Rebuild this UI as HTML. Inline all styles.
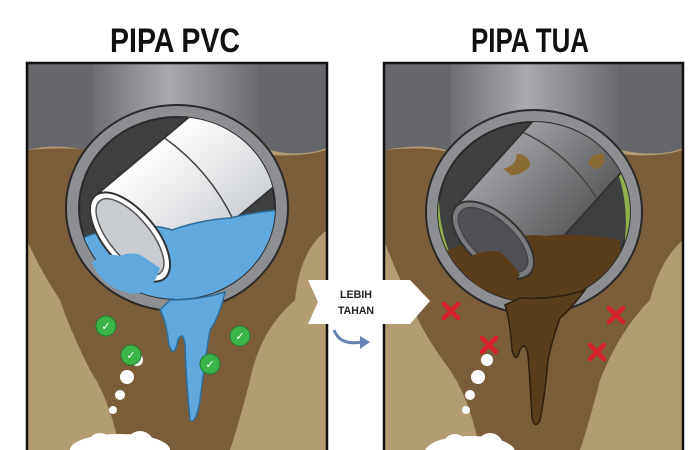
<!DOCTYPE html>
<html><head><meta charset="utf-8"><style>
html,body{margin:0;padding:0;background:#fff;width:700px;height:450px;overflow:hidden}
</style></head><body>
<svg width="700" height="450" viewBox="0 0 700 450" xmlns="http://www.w3.org/2000/svg">
<defs>
<linearGradient id="vp" x1="0" x2="1"><stop offset="0" stop-color="#6e6f72"/><stop offset=".45" stop-color="#a9aaad"/><stop offset="1" stop-color="#6a6b6e"/></linearGradient>
<linearGradient id="wp" x1="0" y1="0" x2="0" y2="1"><stop offset="0" stop-color="#ffffff"/><stop offset="1" stop-color="#cfd2d6"/></linearGradient>
<linearGradient id="gp" x1="0" y1="0" x2="0" y2="1"><stop offset="0" stop-color="#9b9c9f"/><stop offset="1" stop-color="#5d5e60"/></linearGradient>
<clipPath id="cl"><rect x="27" y="63" width="300" height="387"/></clipPath>
<clipPath id="cr"><rect x="384" y="63" width="299" height="387"/></clipPath>
<clipPath id="il"><ellipse cx="177" cy="208" rx="98" ry="91"/></clipPath>
<clipPath id="ir"><ellipse cx="534" cy="212" rx="96" ry="90"/></clipPath>
</defs>
<text x="175" y="52" text-anchor="middle" font-family="Liberation Sans, sans-serif" font-weight="bold" font-size="34" textLength="130" lengthAdjust="spacingAndGlyphs" fill="#111">PIPA PVC</text>
<text x="530" y="52" text-anchor="middle" font-family="Liberation Sans, sans-serif" font-weight="bold" font-size="34" textLength="118" lengthAdjust="spacingAndGlyphs" fill="#111">PIPA TUA</text>

<!-- LEFT PANEL -->
<g clip-path="url(#cl)">
<rect x="27" y="63" width="300" height="387" fill="#b39c72"/>
<path d="M27,150 Q60,142 90,152 L270,150 Q300,158 327,148 L327,63 L27,63Z" fill="#66676a"/>
<rect x="94" y="63" width="165" height="100" fill="url(#vp)"/>
<path d="M27,150 Q80,145 110,155 L250,152 Q290,160 327,150 L327,230 Q300,250 295,300 Q260,330 250,380 Q240,420 230,450 L120,450 Q110,400 90,370 Q70,330 60,300 Q40,270 27,240Z" fill="#7b5d3a"/>
<ellipse cx="177" cy="208" rx="111" ry="103" fill="#8d8e91" stroke="#2a2a2a" stroke-width="2"/>
<ellipse cx="177" cy="208" rx="98" ry="91" fill="#3f4042" stroke="#2a2a2a" stroke-width="2"/>
<g clip-path="url(#il)">
<g transform="translate(130,237) rotate(-40)">
<rect x="0" y="-54" width="190" height="108" fill="url(#wp)" stroke="#333" stroke-width="2"/>
<path d="M90,-54 Q104,0 90,54" fill="none" stroke="#444" stroke-width="1.5"/>
</g>
<path d="M80,240 Q100,228 125,232 Q150,222 172,230 Q200,220 230,218 Q255,212 280,210 L280,320 L80,320Z" fill="#5fa9de" stroke="#2c6d9b" stroke-width="1.5"/>
</g>
<g transform="translate(130,237) rotate(-40)">
<ellipse cx="0" cy="0" rx="26" ry="54" fill="#fff" stroke="#333" stroke-width="2"/>
<ellipse cx="0" cy="0" rx="20" ry="47" fill="#c9ccd0" stroke="#555" stroke-width="1.5"/>
</g>
<path d="M92,262 Q105,252 120,256 Q135,250 145,258 L160,268 Q150,300 125,292 Q100,285 92,262Z" fill="#5fa9de"/>
<path d="M170,300 Q200,300 225,292 Q220,315 210,330 Q205,360 200,400 Q196,425 190,420 Q186,380 185,345 Q183,330 178,340 Q174,360 169,345 Q166,320 160,310Z" fill="#5fa9de" stroke="#2c6d9b" stroke-width="1.5"/>
<g fill="#fff"><circle cx="137" cy="360" r="6"/><circle cx="127" cy="377" r="7"/><circle cx="120" cy="395" r="5"/><circle cx="113" cy="410" r="4"/><ellipse cx="120" cy="450" rx="50" ry="16"/><circle cx="100" cy="445" r="12"/><circle cx="140" cy="445" r="14"/></g>
<g font-family="DejaVu Sans, sans-serif" font-size="11" font-weight="bold" fill="#fff" text-anchor="middle">
<circle cx="106" cy="326" r="10" fill="#3bb54a" stroke="#1e7d2c"/><text x="106" y="330">✓</text>
<circle cx="131" cy="355" r="10" fill="#3bb54a" stroke="#1e7d2c"/><text x="131" y="359">✓</text>
<circle cx="210" cy="364" r="10" fill="#3bb54a" stroke="#1e7d2c"/><text x="210" y="368">✓</text>
<circle cx="240" cy="336" r="10" fill="#3bb54a" stroke="#1e7d2c"/><text x="240" y="340">✓</text>
</g>
</g>
<rect x="27" y="63" width="300" height="392" fill="none" stroke="#111" stroke-width="2.5"/>

<!-- RIGHT PANEL -->
<g clip-path="url(#cr)">
<rect x="384" y="63" width="299" height="387" fill="#b39c72"/>
<path d="M384,150 Q430,142 450,152 L620,150 Q660,158 683,148 L683,63 L384,63Z" fill="#66676a"/>
<rect x="451" y="63" width="167" height="100" fill="url(#vp)"/>
<path d="M384,150 Q430,145 460,155 L610,152 Q650,160 683,150 L683,240 Q660,260 650,300 Q620,330 600,380 Q590,420 580,450 L480,450 Q470,400 450,370 Q420,330 410,300 Q395,270 384,240Z" fill="#7b5d3a"/>
<ellipse cx="534" cy="212" rx="108" ry="102" fill="#8d8e91" stroke="#2a2a2a" stroke-width="2"/>
<ellipse cx="534" cy="212" rx="96" ry="90" fill="#3f4042" stroke="#2a2a2a" stroke-width="2"/>
<g clip-path="url(#ir)">
<path d="M440,180 Q435,225 455,265 L448,268 Q428,220 436,175Z M615,165 Q635,215 618,275 L630,276 Q645,215 622,160Z" fill="#8fb04a"/>
<g transform="translate(493,240) rotate(-48)">
<rect x="0" y="-50" width="190" height="100" fill="url(#gp)" stroke="#333" stroke-width="2"/>
<path d="M100,-50 Q115,0 100,50" fill="none" stroke="#444" stroke-width="1.5"/>
<path d="M60,-40 q10,8 20,0 q8,10 0,18 q-12,0 -20,-8Z M120,20 q10,-6 18,4 q-4,10 -16,6Z M140,-30 q8,4 14,-2 q4,8 -4,14 q-8,-2 -10,-12Z" fill="#8a6a35"/>
</g>
<path d="M445,252 Q470,238 500,245 Q520,232 545,236 Q575,232 620,240 L620,320 L445,320Z" fill="#5a3e1c"/>
</g>
<g transform="translate(493,240) rotate(-48)">
<ellipse cx="0" cy="0" rx="26" ry="50" fill="#7a7b7e" stroke="#333" stroke-width="2"/>
<ellipse cx="0" cy="0" rx="20" ry="43" fill="#505154" stroke="#444" stroke-width="1.5"/>
</g>
<path d="M462,262 Q480,248 500,252 Q512,262 520,275 Q505,295 485,290 Q466,282 462,262Z" fill="#5a3e1c"/>
<path d="M520,298 Q555,300 585,290 Q570,310 560,318 Q552,340 548,360 Q545,395 540,420 Q535,430 532,418 Q530,380 528,355 Q525,340 520,350 Q516,365 512,350 Q510,320 505,305Z" fill="#5a3e1c" stroke="#2e1f0d" stroke-width="1.5"/>
<g fill="#fff"><circle cx="487" cy="360" r="6"/><circle cx="478" cy="377" r="7"/><circle cx="470" cy="395" r="5"/><circle cx="466" cy="410" r="4"/><ellipse cx="470" cy="452" rx="45" ry="16"/><circle cx="455" cy="446" r="12"/><circle cx="490" cy="446" r="13"/></g>
<g stroke="#d8202a" stroke-width="4.5" stroke-linecap="round">
<path d="M444,304 L458,318 M458,304 L444,318"/>
<path d="M482,338 L496,352 M496,338 L482,352"/>
<path d="M609,308 L623,322 M623,308 L609,322"/>
<path d="M590,345 L604,359 M604,345 L590,359"/>
</g>
</g>
<rect x="384" y="63" width="299" height="392" fill="none" stroke="#111" stroke-width="2.5"/>

<!-- middle arrow -->
<path d="M308,280 L410,280 L430,301 L410,324 L308,324 L318,302Z" fill="#fff"/>
<text x="356" y="298" text-anchor="middle" font-family="Liberation Sans, sans-serif" font-weight="bold" font-size="11" textLength="32" lengthAdjust="spacingAndGlyphs" fill="#222">LEBIH</text>
<text x="356" y="314" text-anchor="middle" font-family="Liberation Sans, sans-serif" font-weight="bold" font-size="11" textLength="36" lengthAdjust="spacingAndGlyphs" fill="#222">TAHAN</text>
<path d="M334,330 Q340,346 362,342" fill="none" stroke="#6a82b4" stroke-width="3"/>
<path d="M360,336 L370,342 L360,349Z" fill="#6a82b4"/>
</svg>
</body></html>
